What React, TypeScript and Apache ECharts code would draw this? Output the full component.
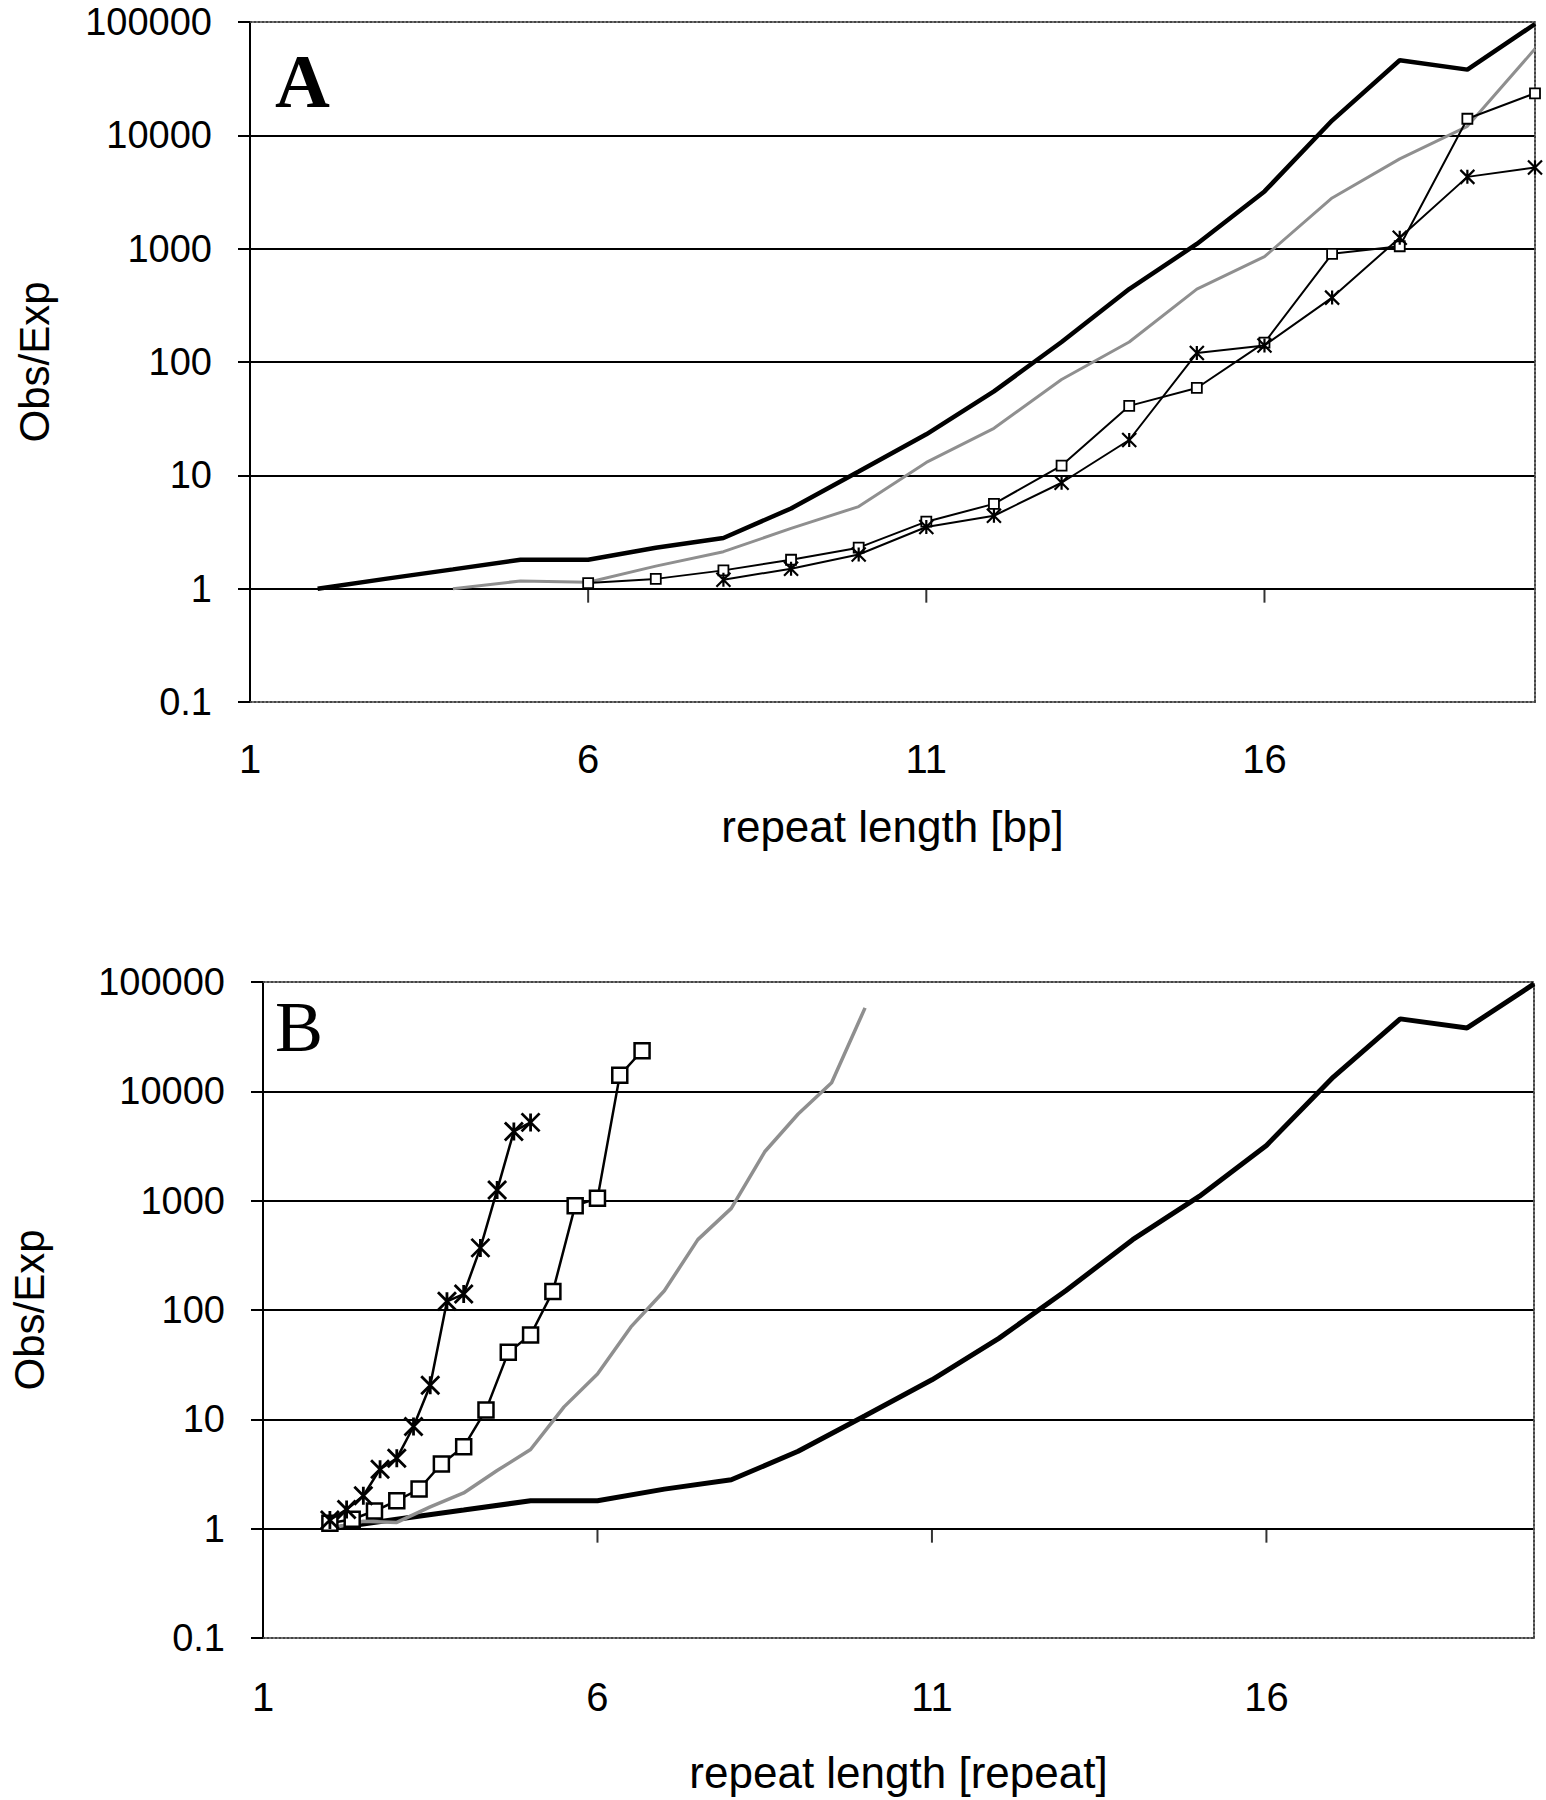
import React, { useEffect, useRef } from 'react';
import * as echarts from 'echarts';

// ---- data ----
const xTickLabels = [1, 6, 11, 16];
const yTickLabels = ['0.1', '1', '10', '100', '1000', '10000', '100000'];

// mononucleotide repeats (thick black line)
const monoBp = [2, 3, 4, 5, 6, 7, 8, 9, 10, 11, 12, 13, 14, 15, 16, 17, 18, 19, 20];
const monoObsExp = [1, 1.22, 1.48, 1.8, 1.8, 2.3, 2.8, 5.1, 10.8, 23, 55, 150, 440, 1100, 3200, 13500, 46000, 38000, 96000];

// dinucleotide repeats (grey line)
const diBp = [4, 5, 6, 7, 8, 9, 10, 11, 12, 13, 14, 15, 16, 17, 18, 19, 20];
const diObsExp = [1.0, 1.17, 1.14, 1.58, 2.12, 3.4, 5.3, 13, 26, 70, 150, 440, 850, 2800, 6200, 12000, 58000];

// trinucleotide repeats (squares)
const triBp = [6, 7, 8, 9, 10, 11, 12, 13, 14, 15, 16, 17, 18, 19, 20];
const triObsExp = [1.12, 1.22, 1.45, 1.8, 2.3, 3.9, 5.6, 12.2, 41, 59, 148, 900, 1050, 14000, 23500];

// tetranucleotide repeats (asterisks)
const tetraBp = [8, 9, 10, 11, 12, 13, 14, 15, 16, 17, 18, 19, 20];
const tetraObsExp = [1.2, 1.5, 2.0, 3.5, 4.4, 8.6, 20.5, 120, 140, 370, 1250, 4300, 5200];

// repeat unit length of each motif class
const unitMono = 1;
const unitDi = 2;
const unitTri = 3;
const unitTetra = 4;

const panelLetters = ['A', 'B'];
const xTitles = ['repeat length [bp]', 'repeat length [repeat]'];
const yTitle = 'Obs/Exp';

// ---- styling ----
const SANS = '"Liberation Sans", Arial, Helvetica, sans-serif';
const SERIF = '"Liberation Serif", "Times New Roman", serif';
const AST = 'path://M0,0L20,20M20,0L0,20M10,0L10,20';
const dotted = { type: 'dotted' as const, color: '#444', width: 2 };

const pairs = (bp: number[], vals: number[], unit: number) => bp.map((b, i) => [b / unit, vals[i]]);

const grids = [
  { left: 250, top: 22, width: 1285, height: 680 },
  { left: 260, top: 982, width: 1274, height: 656 },
];

const panelStyle = [
  { thick: 4.5, grey: 3, line: 2, sq: 10, sqBorder: 1.8, ast: 14, astW: 2.2, labelMargin: 37, nameGap: 102, yNameGap: 195, yLabelMargin: 38 },
  { thick: 5, grey: 3.5, line: 2.5, sq: 15, sqBorder: 2.5, ast: 18, astW: 2.8, labelMargin: 39, nameGap: 112, yNameGap: 213, yLabelMargin: 38 },
];

function buildOption() {
  const xAxis: any[] = [];
  const yAxis: any[] = [];
  const series: any[] = [];

  grids.forEach((_, gi) => {
    const ps = panelStyle[gi];
    xAxis.push({
      gridIndex: gi,
      type: 'value',
      min: 1,
      max: 20,
      position: 'bottom',
      axisLine: { show: true, onZero: false, lineStyle: dotted },
      axisTick: { show: false },
      splitLine: { show: false },
      axisLabel: {
        customValues: xTickLabels,
        fontSize: 40,
        fontFamily: SANS,
        color: '#000',
        margin: ps.labelMargin,
      },
      name: xTitles[gi],
      nameLocation: 'middle',
      nameGap: ps.nameGap,
      nameTextStyle: { fontSize: 44, fontFamily: SANS, color: '#000' },
    });
    yAxis.push({
      gridIndex: gi,
      type: 'log',
      logBase: 10,
      min: 0.1,
      max: 100000,
      axisLine: { show: true, onZero: false, lineStyle: { color: '#000', width: 2 } },
      axisTick: { show: true, length: 12, lineStyle: { color: '#000', width: 2 } },
      axisLabel: {
        fontSize: 38,
        lineHeight: 30,
        fontFamily: SANS,
        color: '#000',
        margin: ps.yLabelMargin,
        formatter: (v: number) => yTickLabels[Math.round(Math.log10(v)) + 1] ?? '',
      },
      splitLine: { show: true, showMinLine: false, showMaxLine: false, lineStyle: { color: '#000', width: 2 } },
      name: yTitle,
      nameLocation: 'middle',
      nameRotate: 90,
      nameGap: ps.yNameGap,
      nameTextStyle: { fontSize: 42, fontFamily: SANS, color: '#000' },
    });
  });

  // border axes: top (x) and right (y), dotted
  grids.forEach((_, gi) => {
    xAxis.push({
      gridIndex: gi, type: 'value', min: 1, max: 20, position: 'top',
      axisLine: { show: true, onZero: false, lineStyle: dotted },
      axisTick: { show: false }, axisLabel: { show: false }, splitLine: { show: false },
    });
    yAxis.push({
      gridIndex: gi, type: 'value', min: 0, max: 1, position: 'right',
      axisLine: { show: true, onZero: false, lineStyle: dotted },
      axisTick: { show: false }, axisLabel: { show: false }, splitLine: { show: false },
    });
  });

  grids.forEach((_, gi) => {
    const ps = panelStyle[gi];
    const inRepeats = gi === 1;
    const u = (n: number) => (inRepeats ? n : 1);
    // x-axis tick marks hanging below the y = 1 line
    series.push({
      type: 'scatter',
      xAxisIndex: gi,
      yAxisIndex: gi,
      silent: true,
      symbol: 'rect',
      symbolSize: [2, 14],
      symbolOffset: [0, 7],
      itemStyle: { color: '#000' },
      data: xTickLabels.filter((t) => t > 1).map((t) => [t, 1]),
      z: 1,
    });
    series.push({
      type: 'line',
      xAxisIndex: gi,
      yAxisIndex: gi,
      showSymbol: false,
      symbol: 'none',
      lineStyle: { color: '#000', width: ps.thick },
      data: pairs(monoBp, monoObsExp, u(unitMono)),
      z: 3,
    });
    series.push({
      type: 'line',
      xAxisIndex: gi,
      yAxisIndex: gi,
      showSymbol: false,
      symbol: 'none',
      lineStyle: { color: '#8f8f8f', width: ps.grey },
      data: pairs(diBp, diObsExp, u(unitDi)),
      z: 3,
    });
    series.push({
      type: 'line',
      xAxisIndex: gi,
      yAxisIndex: gi,
      symbol: 'rect',
      symbolSize: ps.sq,
      showAllSymbol: true,
      lineStyle: { color: '#000', width: ps.line },
      itemStyle: { color: '#fff', borderColor: '#000', borderWidth: ps.sqBorder },
      data: pairs(triBp, triObsExp, u(unitTri)),
      z: 4,
    });
    series.push({
      type: 'line',
      xAxisIndex: gi,
      yAxisIndex: gi,
      symbol: AST,
      symbolSize: ps.ast,
      showAllSymbol: true,
      lineStyle: { color: '#000', width: ps.line },
      itemStyle: { color: '#000', borderColor: '#000', borderWidth: ps.astW },
      data: pairs(tetraBp, tetraObsExp, u(unitTetra)),
      z: 5,
    });
  });

  const graphic = [
    {
      type: 'text',
      x: 275,
      y: 81,
      style: { text: panelLetters[0], fontSize: 76, fontWeight: 'bold', fontFamily: SERIF, fill: '#000', align: 'left', verticalAlign: 'middle' },
    },
    {
      type: 'text',
      x: 275,
      y: 1027,
      style: { text: panelLetters[1], fontSize: 72, fontWeight: 'normal', fontFamily: SERIF, fill: '#000', align: 'left', verticalAlign: 'middle' },
    },
  ];

  return {
    animation: false,
    backgroundColor: '#fff',
    grid: grids,
    xAxis,
    yAxis,
    series,
    graphic,
  };
}

export default function App() {
  const ref = useRef<HTMLDivElement>(null);
  useEffect(() => {
    if (!ref.current) return;
    const chart = echarts.init(ref.current, undefined, { renderer: 'svg' });
    chart.setOption(buildOption() as any);
    return () => chart.dispose();
  }, []);
  return (
    <div
      ref={ref}
      style={{ position: 'absolute', left: 0, top: 0, width: 1546, height: 1800, background: '#fff' }}
    />
  );
}
